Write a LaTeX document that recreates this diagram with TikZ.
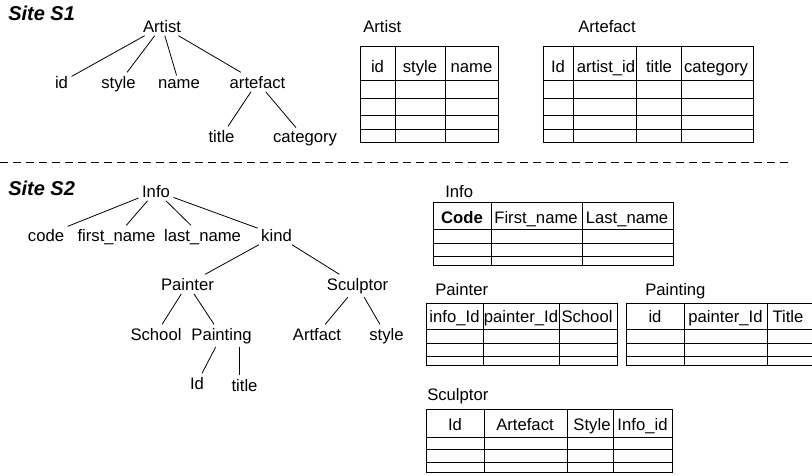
\documentclass[tikz,border=0pt]{standalone}
\usepackage{fontspec}
\setmainfont{Liberation Sans}
\newcommand{\maketable}[6]{
	\draw[grid] (#1,#3) rectangle (#2,#4);
	\foreach \cx in {#5} \draw[grid] (\cx,#3) -- (\cx,#4);
	\foreach \cy in {#6} \draw[grid] (#1,\cy) -- (#2,\cy);
}
\tikzset{
	word/.style={anchor=base, inner sep=2.5pt, font=\fontsize{12.5}{14}\selectfont},
	tabname/.style={anchor=base west, inner sep=0pt, font=\fontsize{12.5}{14}\selectfont},
	site/.style={anchor=base west, inner sep=0pt, font=\fontsize{15}{17}\selectfont\bfseries\itshape},
	grid/.style={line width=0.65pt},
	edge/.style={line width=0.6pt},
}

\begin{document}
\begin{tikzpicture}[x=0.75pt,y=-0.75pt]
	\path[use as bounding box, clip] (0,0) rectangle (812,475);

	% site S1: tree
	\node[site] (siteone) at (8,20) {Site S1};
	\node[word] (s1artist) at (162,32) {Artist};
	\node[word] (s1id) at (61.5,88) {id};
	\node[word] (s1style) at (118.5,88) {style};
	\node[word] (s1name) at (179,88) {name};
	\node[word] (s1artefact) at (257.5,88) {artefact};
	\node[word] (s1title) at (221.5,142) {title};
	\node[word] (s1category) at (305,142) {category};

	\draw[edge] (s1artist) -- (s1id);
	\draw[edge] (s1artist) -- (s1style);
	\draw[edge] (s1artist) -- (s1name);
	\draw[edge] (s1artist) -- (s1artefact);
	\draw[edge] (s1artefact) -- (s1title);
	\draw[edge] (s1artefact) -- (s1category);

	% site S1: tables
	\node[tabname] (tartist) at (363,32) {Artist};
	\maketable{360}{498}{46}{142}{395,445}{80,98,115,129}
	\node[word] (ta_id) at (377.5,72) {id};
	\node[word] (ta_style) at (420,72) {style};
	\node[word] (ta_name) at (471.5,72) {name};

	\node[tabname] (tartefact) at (578,32) {Artefact};
	\maketable{543}{753}{46}{142}{573,636,681}{80,98,115,129}
	\node[word] (tf_id) at (558,72) {Id};
	\node[word] (tf_artist) at (606,72) {artist\_id};
	\node[word] (tf_title) at (659,72) {title};
	\node[word] (tf_category) at (716,72) {category};

	% border between the sites
	\coordinate (cutl) at (0,162);
	\coordinate (cutr) at (790,162);
	\draw[edge, dash pattern=on 6pt off 3.75pt] (cutl) -- (cutr);

	% site S2: tree
	\node[site] (sitetwo) at (8,195) {Site S2};
	\node[word] (s2info) at (156,197) {Info};
	\node[word] (s2code) at (46,241) {code};
	\node[word] (s2first) at (116.5,241) {first\_name};
	\node[word] (s2last) at (202.5,241) {last\_name};
	\node[word] (s2kind) at (276.5,241) {kind};
	\node[word] (s2painter) at (187.5,290) {Painter};
	\node[word] (s2sculptor) at (357.5,290) {Sculptor};
	\node[word] (s2school) at (156,340) {School};
	\node[word] (s2painting) at (221.5,340) {Painting};
	\node[word] (s2artfact) at (317,340) {Artfact};
	\node[word] (s2style) at (386.5,340) {style};
	\node[word] (s2id) at (197,389) {Id};
	\node[word] (s2title) at (244.5,391) {title};

	\draw[edge] (s2info) -- (s2code);
	\draw[edge] (s2info) -- (s2first);
	\draw[edge] (s2info) -- (s2last);
	\draw[edge] (s2info) -- (s2kind);
	\draw[edge] (s2kind) -- (s2painter);
	\draw[edge] (s2kind) -- (s2sculptor);
	\draw[edge] (s2painter) -- (s2school);
	\draw[edge] (s2painter) -- (s2painting);
	\draw[edge] (s2sculptor) -- (s2artfact);
	\draw[edge] (s2sculptor) -- (s2style);
	\draw[edge] (s2painting) -- (s2id);
	\draw[edge] (s2painting.south east) ++(-16,0) coordinate (pgfoot) -- (pgfoot |- s2title.north);

	% site S2: tables
	\node[tabname] (tinfo) at (445,197) {Info};
	\maketable{433}{673}{202}{265}{491,582}{229,243,256}
	\node[word] (ti_code) at (462,223) {\bfseries Code};
	\node[word] (ti_first) at (536,223) {First\_name};
	\node[word] (ti_last) at (627,223) {Last\_name};

	\node[tabname] (tpainter) at (435,295) {Painter};
	\maketable{426}{617}{303}{365}{483,559}{329,343,356}
	\node[word] (tp_info) at (454.5,322) {info\_Id};
	\node[word] (tp_painter) at (521,322) {painter\_Id};
	\node[word] (tp_school) at (587,322) {School};

	\node[tabname] (tpainting) at (645,295) {Painting};
	\maketable{626}{822}{303}{365}{684,767}{329,343,356}
	\node[word] (tg_id) at (655,322) {id};
	\node[word] (tg_painter) at (725.5,322) {painter\_Id};
	\node[word] (tg_title) at (788,322) {Title};

	\node[tabname] (tsculptor) at (427,400) {Sculptor};
	\maketable{426}{672}{409}{472}{484,567,613}{437,449,462}
	\node[word] (ts_id) at (455,430) {Id};
	\node[word] (ts_artefact) at (525,430) {Artefact};
	\node[word] (ts_style) at (592,430) {Style};
	\node[word] (ts_info) at (642.5,430) {Info\_id};
\end{tikzpicture}
\end{document}
